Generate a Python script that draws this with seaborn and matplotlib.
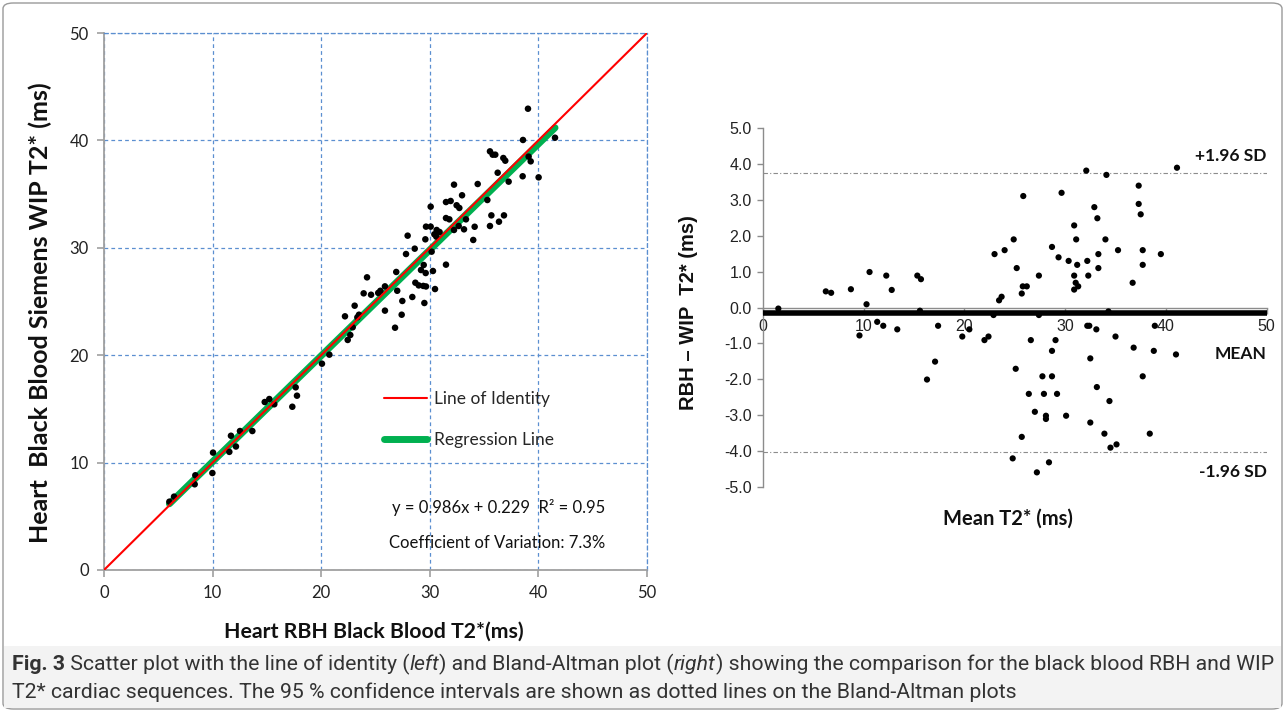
import numpy as np
import pandas as pd
import matplotlib
matplotlib.use("Agg")
import matplotlib.pyplot as plt
import seaborn as sns
from matplotlib.patches import FancyBboxPatch, Rectangle
from matplotlib.lines import Line2D

# ---------------- data: left scatter (RBH vs WIP) ----------------
rbh = [39.04, 38.58, 41.53, 35.54, 35.79, 36.03, 36.77, 36.95, 39.10, 39.29,
       36.25, 37.26, 38.55, 40.02, 34.41, 32.23, 31.49, 31.92, 32.97, 32.47,
       32.72, 35.30, 31.49, 31.80, 33.33, 30.90, 32.23, 32.66, 33.15, 34.13,
       35.67, 36.83, 35.54, 36.37, 34.00, 31.49,
       30.08, 29.65, 30.08, 30.63, 30.42, 30.60, 29.59, 27.96, 28.61, 27.81,
       30.17, 29.19, 29.44, 29.62, 30.29, 26.91, 27.00, 28.67, 28.98, 29.40,
       29.65, 30.48, 28.39, 27.47, 29.50, 25.87, 25.25, 25.45, 24.22, 23.91,
       24.59, 25.87, 27.41, 26.80, 23.08, 23.48, 23.33, 22.19, 22.90, 22.68,
       22.44, 20.75, 20.07,
       17.65, 17.77, 17.34, 14.80, 15.22, 15.68, 12.52, 13.66, 11.69, 11.54,
       12.15, 10.04, 9.98, 8.41, 8.35, 6.02, 6.45]
wip = [42.95, 40.04, 40.25, 38.98, 38.67, 38.67, 38.36, 38.11, 38.49, 38.05,
       36.99, 36.16, 36.66, 36.56, 35.94, 35.88, 34.26, 34.36, 34.89, 33.96,
       33.71, 34.45, 32.77, 32.65, 32.65, 31.47, 31.66, 32.03, 31.72, 31.96,
       33.02, 33.02, 32.03, 32.43, 30.73, 28.43,
       33.83, 31.97, 31.97, 31.66, 31.26, 31.04, 30.79, 31.13, 29.92, 29.42,
       29.64, 27.93, 28.40, 27.65, 27.84, 27.75, 26.00, 26.75, 26.50, 26.45,
       26.40, 26.16, 25.42, 25.05, 24.86, 26.41, 25.80, 26.00, 27.25, 25.76,
       25.63, 24.15, 23.77, 22.56, 24.61, 23.77, 23.53, 23.62, 22.60, 21.88,
       21.42, 20.05, 19.21,
       17.01, 16.23, 15.20, 15.64, 15.92, 15.43, 12.94, 12.94, 12.50, 11.00,
       11.50, 10.93, 9.03, 8.82, 7.98, 6.36, 6.83]
reg_slope = 0.986
reg_intercept = 0.229
identity_range = [0, 50]

# ---------------- data: Bland-Altman ----------------
ba_mean = [1.55, 6.26, 6.79, 8.75, 10.6, 10.3, 9.6, 11.36, 11.96, 12.26,
           12.8, 13.35, 15.34, 15.7, 15.6, 17.4, 17.1, 16.3, 19.8, 20.5,
           22.0, 22.4, 22.9, 23.0, 24.0, 24.9, 25.2, 23.45, 23.7, 25.1,
           24.8, 25.7, 25.85, 25.7, 25.8, 26.2, 27.4, 27.4, 29.65, 28.7,
           29.35, 30.35, 30.9, 31.1, 31.2, 30.9, 31.05, 31.3, 30.9, 32.1,
           32.2, 32.3, 32.9, 33.2, 33.3, 33.3, 34.0, 34.1, 35.25, 34.3,
           36.7, 37.3, 37.3, 37.5, 37.7, 37.7, 39.5, 41.1, 26.6, 29.05,
           28.7, 27.75, 28.7, 26.4, 27.9, 29.2, 27.0, 28.1, 28.1, 30.1,
           28.4, 27.2, 32.2, 32.4, 33.1, 35.0, 32.5, 33.15, 34.4, 32.5,
           33.9, 34.5, 35.1, 36.8, 38.8, 38.9, 41.0, 37.7, 38.4]
ba_diff = [-0.03, 0.45, 0.41, 0.51, 0.99, 0.09, -0.78, -0.40, -0.51, 0.89,
           0.49, -0.61, 0.89, 0.79, -0.09, -0.51, -1.51, -2.01, -0.81, -0.61,
           -0.91, -0.81, -0.21, 1.49, 1.60, 1.90, 1.10, 0.20, 0.30, -1.71,
           -4.21, -3.61, 3.11, 0.39, 0.59, 0.59, 0.89, -0.21, 3.20, 1.69,
           1.40, 1.30, 2.29, 1.90, 1.19, 0.89, 0.69, 0.59, 0.50, 3.82,
           1.30, 0.89, 2.80, 2.49, 1.49, 1.10, 1.90, 3.70, 1.60, -0.11,
           0.69, 3.40, 2.89, 2.60, 1.60, 1.19, 1.49, 3.90, -0.91, -0.91,
           -1.21, -1.92, -1.92, -2.41, -2.41, -2.41, -2.91, -3.02, -3.11, -3.02,
           -4.32, -4.60, -0.51, -0.51, -0.61, -0.81, -1.42, -2.22, -2.61, -3.21,
           -3.52, -3.91, -3.82, -1.12, -1.21, -0.51, -1.31, -1.92, -3.52]
mean_diff = -0.15
sd_diff = 1.985
ba_xrange = [0, 50]

left_ticks = [0, 10, 20, 30, 40, 50]
right_xticks = [0, 10, 20, 30, 40, 50]
right_yticks = [-5, -4, -3, -2, -1, 0, 1, 2, 3, 4, 5]

sns.set_theme(style="white")
plt.rcParams['font.family'] = ['Lato', 'DejaVu Sans']

W, H = 1285, 712
fig = plt.figure(figsize=(W / 100, H / 100), dpi=100)

# figure frame and caption box
fig.patches.append(FancyBboxPatch((3 / W, 3 / H), (W - 6) / W, (H - 6) / H,
                                  boxstyle="round,pad=0,rounding_size=0.008",
                                  transform=fig.transFigure, fill=False,
                                  edgecolor="#9a9a9a", linewidth=1.0, zorder=0))
fig.patches.append(Rectangle((4 / W, 4 / H), (W - 8) / W, (H - 650) / H,
                             transform=fig.transFigure, facecolor="#f3f3f3",
                             edgecolor="none", zorder=0))

# ---------------- left axes ----------------
ax1 = fig.add_axes([104 / W, 1 - 570 / H, 543 / W, 537 / H])
grid_blue = "#5b8fd0"
ax1.set_xlim(0, 50)
ax1.set_ylim(0, 50)
ax1.set_xticks(left_ticks)
ax1.set_yticks(left_ticks)
ax1.grid(True, color=grid_blue, linestyle=(0, (3, 2.5)), linewidth=0.9)
for s in ["top", "right"]:
    ax1.spines[s].set_visible(True)
    ax1.spines[s].set_color(grid_blue)
    ax1.spines[s].set_linestyle((0, (3, 2.5)))
    ax1.spines[s].set_linewidth(0.9)
for s in ["left", "bottom"]:
    ax1.spines[s].set_color("#a0a0a0")
    ax1.spines[s].set_linewidth(1.3)
ax1.tick_params(direction="out", length=5, width=1.2, color="#a0a0a0",
                labelsize=12, labelcolor="#222222", pad=6,
                left=True, bottom=True)

df_sc = pd.DataFrame({"RBH": rbh, "WIP": wip})
sns.scatterplot(data=df_sc, x="RBH", y="WIP", ax=ax1, color="black", s=22,
                edgecolor="none", zorder=4, legend=False)
reg_x = np.array([min(rbh), max(rbh)])
df_reg = pd.DataFrame({"x": reg_x, "y": reg_slope * reg_x + reg_intercept})
sns.lineplot(data=df_reg, x="x", y="y", ax=ax1, color="#00b050", linewidth=5,
             zorder=3, solid_capstyle="round")
df_id = pd.DataFrame({"x": identity_range, "y": identity_range})
sns.lineplot(data=df_id, x="x", y="y", ax=ax1, color="#ff0000", linewidth=1.5,
             zorder=5)

handles = [Line2D([], [], color="#ff0000", linewidth=1.5),
           Line2D([], [], color="#00b050", linewidth=5, solid_capstyle="round")]
ax1.legend(handles, ["Line of Identity", "Regression Line"], frameon=False,
           loc="upper left", bbox_to_anchor=(0.515, 0.333), fontsize=12.5,
           handlelength=2.5, handletextpad=0.4, labelspacing=1.45,
           borderpad=0, borderaxespad=0)
ax1.text(0.727, 0.117, "y = 0.986x + 0.229  R² = 0.95", transform=ax1.transAxes,
         ha="center", va="center", fontsize=12, color="#111111")
ax1.text(0.724, 0.050, "Coefficient of Variation: 7.3%", transform=ax1.transAxes,
         ha="center", va="center", fontsize=12, color="#111111")
ax1.set_xlabel("")
ax1.set_ylabel("")
ax1.text(0.497, -0.115, "Heart RBH Black Blood T2*(ms)", transform=ax1.transAxes,
         ha="center", va="center", fontsize=15.3, fontweight="bold",
         color="#111111")
ax1.text(-0.118, 0.48, "Heart  Black Blood Siemens WIP T2* (ms)",
         transform=ax1.transAxes, ha="center", va="center", rotation=90,
         fontsize=18, fontweight="bold", color="#111111")

# ---------------- right axes (Bland-Altman) ----------------
ax2 = fig.add_axes([762.7 / W, 1 - 486.7 / H, 504 / W, 358.4 / H])
ax2.set_xlim(0, 50)
ax2.set_ylim(-5, 5)
ax2.set_xticks(right_xticks)
ax2.set_yticks(right_yticks)
ax2.set_yticklabels([f"{v:.1f}" for v in right_yticks])
for s in ["top", "right"]:
    ax2.spines[s].set_visible(False)
ax2.spines["bottom"].set_position(("data", 0))
for s in ["left", "bottom"]:
    ax2.spines[s].set_color("#8c8c8c")
    ax2.spines[s].set_linewidth(1.0)
ax2.tick_params(direction="out", length=4, width=1.0, color="#8c8c8c",
                labelsize=11.5, labelcolor="#222222", left=True, bottom=True)
ax2.tick_params(axis="x", pad=4)
ax2.tick_params(axis="y", pad=4)
for lab in ax2.get_xticklabels() + ax2.get_yticklabels():
    lab.set_fontfamily(["Liberation Sans", "DejaVu Sans"])

df_ba = pd.DataFrame({"mean": ba_mean, "diff": ba_diff})
sns.scatterplot(data=df_ba, x="mean", y="diff", ax=ax2, color="black", s=20,
                edgecolor="none", zorder=4, legend=False)
upper = mean_diff + 1.96 * sd_diff
lower = mean_diff - 1.96 * sd_diff
df_mean = pd.DataFrame({"x": ba_xrange, "y": [mean_diff] * 2})
sns.lineplot(data=df_mean, x="x", y="y", ax=ax2, color="black", linewidth=4,
             zorder=3)
for lvl in (upper, lower):
    df_l = pd.DataFrame({"x": ba_xrange, "y": [lvl] * 2})
    sns.lineplot(data=df_l, x="x", y="y", ax=ax2, color="#8c8c8c",
                 linewidth=0.8, linestyle=(0, (4, 2, 1, 2)), zorder=2)
ax2.set_xlabel("")
ax2.set_ylabel("")
ax2.text(50, upper + 0.25, "+1.96 SD", ha="right", va="bottom", fontsize=12.5,
         fontweight="bold", color="#111111")
ax2.text(50, -1.3, "MEAN", ha="right", va="center", fontsize=12.5,
         fontweight="bold", color="#111111")
ax2.text(50, lower - 0.55, "-1.96 SD", ha="right", va="center", fontsize=12.5,
         fontweight="bold", color="#111111")
ax2.text(0.487, -0.09, "Mean T2* (ms)", transform=ax2.transAxes, ha="center",
         va="center", fontsize=14.5, fontweight="bold", color="#111111")
ax2.text(-0.148, 0.487, "RBH – WIP  T2* (ms)", transform=ax2.transAxes,
         ha="center", va="center", rotation=90, fontsize=14.5,
         fontweight="bold", color="#111111",
         family=["Liberation Sans", "DejaVu Sans"])

# ---------------- caption ----------------
line1 = [("Fig. 3", "normal", "bold"), (" Scatter plot with the line of identity (", "normal", "normal"),
         ("left", "italic", "normal"), (") and Bland-Altman plot (", "normal", "normal"),
         ("right", "italic", "normal"),
         (") showing the comparison for the black blood RBH and WIP", "normal", "normal")]
line2 = [("T2* cardiac sequences. The 95 % confidence intervals are shown as dotted lines on the Bland-Altman plots",
          "normal", "normal")]

renderer = fig.canvas.get_renderer()
cap_family = ["Roboto", "DejaVu Sans"]


def measure(pieces, size):
    total = 0
    for txt, style, weight in pieces:
        t = fig.text(0, 0, txt, fontsize=size, style=style, weight=weight,
                     family=cap_family)
        total += t.get_window_extent(renderer).width
        t.remove()
    return total


base = 12
w1 = measure(line1, base)
cap_size = base * 1258 / w1


def draw_line(pieces, y_px):
    x = 12
    for txt, style, weight in pieces:
        t = fig.text(x / W, 1 - y_px / H, txt, fontsize=cap_size, style=style,
                     weight=weight, family=cap_family, va="center",
                     color="#333333")
        x += t.get_window_extent(renderer).width


draw_line(line1, 664)
draw_line(line2, 692)

fig.savefig("out.png", dpi=100)
